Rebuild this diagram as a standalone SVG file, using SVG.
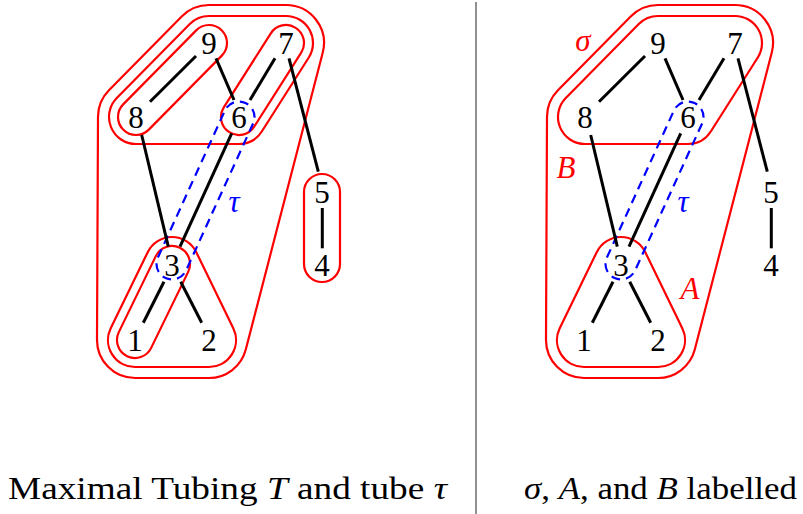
<svg xmlns="http://www.w3.org/2000/svg" width="803" height="514" viewBox="0 0 803 514">
<style>
.tube{fill:none;stroke:#ff0000;stroke-width:2.2}
.tau{fill:none;stroke:#0000ff;stroke-width:2.2;stroke-dasharray:9 6}
.edge{stroke:#000;stroke-width:3;fill:none}
.lbl{font-size:31px;text-anchor:middle;fill:#000}
.rl{font-size:31px;font-style:italic;text-anchor:middle;fill:#ff0000}
.bl{font-size:31px;font-style:italic;text-anchor:middle;fill:#0000ff}
.cap{font-size:31px;fill:#000}
.it{font-style:italic}
</style>
<rect width="803" height="514" fill="#fff"/>
<line x1="476" y1="2" x2="476" y2="514" stroke="#222" stroke-width="1"/>

<!-- Left panel tubes -->
<g id="left-tubes">
  <path id="L-outer" class="tube" d="M209,5 L286,5 A38,38 0 0 1 322.78,52.54 L245.78,349.54 A38,38 0 0 1 209,378 L135,378 A38,38 0 0 1 97,339.83 L98,116.83 A38,38 0 0 1 108.95,90.31 L181.95,16.31 A38,38 0 0 1 209,5 Z"/>
  <path id="L-sigma" class="tube" d="M209,16 L286,16 A27,27 0 0 1 308.79,57.48 L261.79,131.48 A27,27 0 0 1 239,144 L136,144 A27,27 0 0 1 116.78,98.04 L189.78,24.04 A27,27 0 0 1 209,16 Z"/>
  <rect id="L-t89" class="tube" x="102.525" y="62" width="139.95" height="36" rx="18" transform="rotate(-45.39 172.5 80)"/>
  <rect id="L-t76" class="tube" x="200.67" y="62" width="123.66" height="36" rx="18" transform="rotate(-57.57 262.5 80)"/>
  <rect id="L-t54" class="tube" x="304" y="174" width="36" height="108" rx="18"/>
  <path id="L-A" class="tube" d="M147.72,252.18 A27,27 0 0 1 196.28,252.18 L233.28,328.18 A27,27 0 0 1 209,367 L135,367 A27,27 0 0 1 110.72,328.18 Z"/>
  <rect id="L-t13" class="tube" x="93.235" y="284" width="120.53" height="36" rx="18" transform="rotate(-64.04 153.5 302)"/>
  <rect id="L-tau" class="tau" x="109.225" y="175" width="192.55" height="31" rx="15.5" transform="rotate(-65.49 205.5 190.5)"/>
</g>

<!-- Right panel tubes -->
<g id="right-tubes" transform="translate(449 0)">
  <path id="R-B" class="tube" d="M209,5 L286,5 A38,38 0 0 1 322.78,52.54 L245.78,349.54 A38,38 0 0 1 209,378 L135,378 A38,38 0 0 1 97,339.83 L98,116.83 A38,38 0 0 1 108.95,90.31 L181.95,16.31 A38,38 0 0 1 209,5 Z"/>
  <path id="R-sigma" class="tube" d="M209,16 L286,16 A27,27 0 0 1 308.79,57.48 L261.79,131.48 A27,27 0 0 1 239,144 L136,144 A27,27 0 0 1 116.78,98.04 L189.78,24.04 A27,27 0 0 1 209,16 Z"/>
  <path id="R-A" class="tube" d="M147.72,252.18 A27,27 0 0 1 196.28,252.18 L233.28,328.18 A27,27 0 0 1 209,367 L135,367 A27,27 0 0 1 110.72,328.18 Z"/>
  <rect id="R-tau" class="tau" x="109.225" y="175" width="192.55" height="31" rx="15.5" transform="rotate(-65.49 205.5 190.5)"/>
</g>

<!-- Connectors -->
<g id="connectors">
  <g id="left-edges">
    <line class="edge" x1="150" y1="101.7" x2="196" y2="56"/>
    <line class="edge" x1="216" y1="58.3" x2="234" y2="100"/>
    <line class="edge" x1="275" y1="58.3" x2="250" y2="100"/>
    <line class="edge" x1="289" y1="58.3" x2="318.3" y2="171.7"/>
    <line class="edge" x1="141.7" y1="135" x2="168.3" y2="246.7"/>
    <line class="edge" x1="231.7" y1="133.3" x2="180" y2="246.7"/>
    <line class="edge" x1="164" y1="281.7" x2="143.3" y2="322.7"/>
    <line class="edge" x1="180.7" y1="281.7" x2="201.7" y2="322.7"/>
    <line class="edge" x1="322.3" y1="208" x2="322.3" y2="248.3"/>
  </g>
  <g id="right-edges" transform="translate(449 0)">
    <line class="edge" x1="150" y1="101.7" x2="196" y2="56"/>
    <line class="edge" x1="216" y1="58.3" x2="234" y2="100"/>
    <line class="edge" x1="275" y1="58.3" x2="250" y2="100"/>
    <line class="edge" x1="289" y1="58.3" x2="318.3" y2="171.7"/>
    <line class="edge" x1="141.7" y1="135" x2="168.3" y2="246.7"/>
    <line class="edge" x1="231.7" y1="133.3" x2="180" y2="246.7"/>
    <line class="edge" x1="164" y1="281.7" x2="143.3" y2="322.7"/>
    <line class="edge" x1="180.7" y1="281.7" x2="201.7" y2="322.7"/>
    <line class="edge" x1="322.3" y1="208" x2="322.3" y2="248.3"/>
  </g>
</g>

<g font-family="Liberation Serif, serif">
<!-- Left nodes -->
<g id="L9"><text class="lbl" x="209" y="53.5">9</text></g>
<g id="L7"><text class="lbl" x="286" y="53.5">7</text></g>
<g id="L8"><text class="lbl" x="136" y="127.5">8</text></g>
<g id="L6"><text class="lbl" x="239" y="127.5">6</text></g>
<g id="L5"><text class="lbl" x="322" y="202.5">5</text></g>
<g id="L4"><text class="lbl" x="322" y="275.5">4</text></g>
<g id="L3"><text class="lbl" x="172" y="275.5">3</text></g>
<g id="L1"><text class="lbl" x="135" y="350.5">1</text></g>
<g id="L2"><text class="lbl" x="209" y="350.5">2</text></g>

<!-- Right nodes -->
<g id="R9"><text class="lbl" x="658" y="53.5">9</text></g>
<g id="R7"><text class="lbl" x="735" y="53.5">7</text></g>
<g id="R8"><text class="lbl" x="585" y="127.5">8</text></g>
<g id="R6"><text class="lbl" x="688" y="127.5">6</text></g>
<g id="R5"><text class="lbl" x="771" y="202.5">5</text></g>
<g id="R4"><text class="lbl" x="771" y="275.5">4</text></g>
<g id="R3"><text class="lbl" x="621" y="275.5">3</text></g>
<g id="R1"><text class="lbl" x="584" y="350.5">1</text></g>
<g id="R2"><text class="lbl" x="658" y="350.5">2</text></g>

<!-- Tube labels -->
<g id="labels">
  <text class="bl" x="234" y="212">τ</text>
  <text class="bl" x="683" y="212">τ</text>
  <text class="rl" x="583" y="51">σ</text>
  <text class="rl" x="566" y="178">B</text>
  <text class="rl" x="690" y="299">A</text>
</g>

<!-- Captions -->
<text class="cap" x="8" y="499" textLength="439" lengthAdjust="spacingAndGlyphs">Maximal Tubing <tspan class="it">T</tspan> and tube <tspan class="it">τ</tspan></text>
<text class="cap" x="524" y="499" textLength="273" lengthAdjust="spacingAndGlyphs"><tspan class="it">σ</tspan>, <tspan class="it">A</tspan>, and <tspan class="it">B</tspan> labelled</text>
</g>
</svg>
